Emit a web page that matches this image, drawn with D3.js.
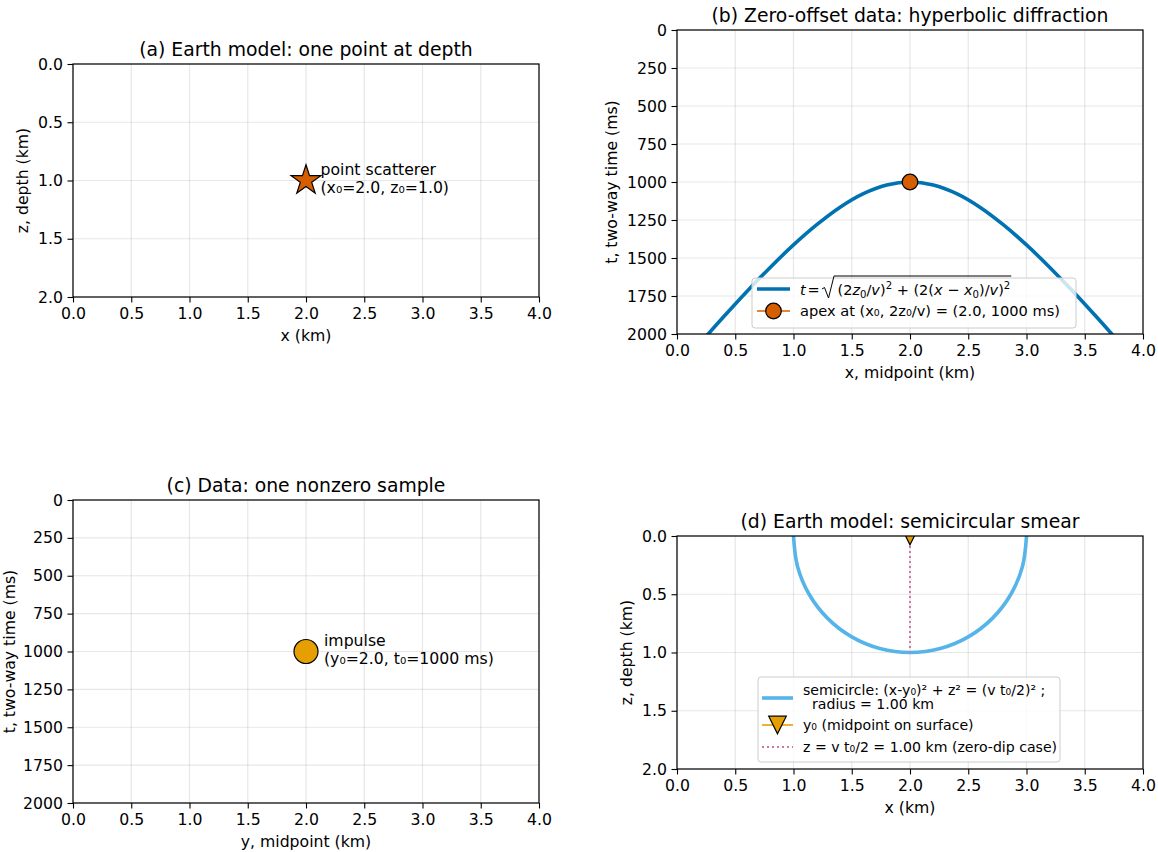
<!DOCTYPE html>
<html><head><meta charset="utf-8">
<script src="https://cdn.jsdelivr.net/npm/d3@7"></script>
<style>
body{margin:0;background:#fff}
text{font-family:"DejaVu Sans",sans-serif;fill:#000}
</style>
</head><body>
<svg id="chart" width="1158" height="852"></svg>
<script>
// ---------- data ----------
const xTicks = [0, 0.5, 1, 1.5, 2, 2.5, 3, 3.5, 4];
const depthTicks = [0, 0.5, 1, 1.5, 2];
const timeTicks = [0, 250, 500, 750, 1000, 1250, 1500, 1750, 2000];

const scattererX = [2.0], scattererZ = [1.0];
const apexX = [2.0], apexT = [1000];
const impulseY = [2.0], impulseT = [1000];
const midpointY = [2.0], midpointZ = [0.0];
const dipLineX = [2.0, 2.0], dipLineZ = [0.0, 1.0];

// hyperbolic diffraction (two-way time, ms) sampled along midpoint x (km)
const hypX = [0.0,0.2,0.4,0.6,0.8,1.0,1.2,1.4,1.6,1.8,2.0,2.2,2.4,2.6,2.8,3.0,3.2,3.4,3.6,3.8,4.0];
const hypT = [2236,2059,1887,1720,1562,1414,1281,1166,1077,1020,1000,1020,1077,1166,1281,1414,1562,1720,1887,2059,2236];

// semicircular smear (km)
const circX = [3.000,2.966,2.866,2.707,2.500,2.259,2.000,1.741,1.500,1.293,1.134,1.034,1.000];
const circZ = [0.000,0.259,0.500,0.707,0.866,0.966,1.000,0.966,0.866,0.707,0.500,0.259,0.000];

// ---------- style ----------
const C = {hyp:"#0072B2", apex:"#D55E00", star:"#D55E00", imp:"#E69F00", tri:"#E69F00", circ:"#56B4E9", dot:"#CC79A7"};
const FT = 15.7, FTITLE = 18.8, FLEG = 14.1, FLEGB = 14.6, FMATH = 14.5;

const svg = d3.select("#chart");

function starPath(R){
  const r = R*0.381966, p=[];
  for(let i=0;i<10;i++){
    const a = (-90 + i*36)*Math.PI/180, rr = i%2 ? r : R;
    p.push([rr*Math.cos(a), rr*Math.sin(a)]);
  }
  return "M" + p.map(d=>d[0].toFixed(2)+","+d[1].toFixed(2)).join("L") + "Z";
}
function triDownPath(h){ return `M0,${h}L${h},${-h}L${-h},${-h}Z`; }

function panel(o){
  const x = d3.scaleLinear().domain([0,4]).range([o.left, o.left+o.w]);
  const y = d3.scaleLinear().domain(o.ydom).range([o.top, o.top+o.h]);
  const g = svg.append("g");
  g.selectAll(null).data(xTicks).enter().append("line")
    .attr("x1",d=>x(d)).attr("x2",d=>x(d)).attr("y1",o.top).attr("y2",o.top+o.h)
    .attr("stroke","#b0b0b0").attr("stroke-opacity",0.3).attr("stroke-width",1.2);
  g.selectAll(null).data(o.yTicks).enter().append("line")
    .attr("y1",d=>y(d)).attr("y2",d=>y(d)).attr("x1",o.left).attr("x2",o.left+o.w)
    .attr("stroke","#b0b0b0").attr("stroke-opacity",0.3).attr("stroke-width",1.2);
  svg.append("clipPath").attr("id","clip"+o.id).append("rect")
    .attr("x",o.left).attr("y",o.top).attr("width",o.w).attr("height",o.h);
  const plot = svg.append("g").attr("clip-path",`url(#clip${o.id})`);
  const ax = svg.append("g").attr("transform",`translate(0,${o.top+o.h})`)
    .call(d3.axisBottom(x).tickValues(xTicks).tickFormat(d3.format(".1f")).tickSizeOuter(0).tickSize(5.5).tickPadding(5.4));
  const ay = svg.append("g").attr("transform",`translate(${o.left},0)`)
    .call(d3.axisLeft(y).tickValues(o.yTicks).tickFormat(o.yFmt).tickSizeOuter(0).tickSize(5.5).tickPadding(4.5));
  [ax,ay].forEach(a=>{
    a.select(".domain").remove();
    a.attr("font-family",null).attr("font-size",null);
    a.selectAll("text").style("font-size",FT+"px").style("font-family","DejaVu Sans");
    a.selectAll("line").attr("stroke","#000").attr("stroke-width",1.1);
  });
  let maxW = 0;
  ay.selectAll("text").each(function(){ maxW = Math.max(maxW, this.getComputedTextLength()); });
  svg.append("rect").attr("x",o.left).attr("y",o.top).attr("width",o.w).attr("height",o.h)
    .attr("fill","none").attr("stroke","#000").attr("stroke-width",1.2);
  svg.append("text").attr("x",o.left+o.w/2).attr("y",o.top-8.5).attr("text-anchor","middle")
    .style("font-size",FTITLE+"px").text(o.title);
  svg.append("text").attr("x",o.left+o.w/2).attr("y",o.top+o.h+44).attr("text-anchor","middle")
    .style("font-size",FT+"px").text(o.xlabel);
  const xb = Math.max(14.5, o.left - 10 - maxW - 10);
  svg.append("text").attr("transform",`translate(${xb},${o.top+o.h/2}) rotate(-90)`)
    .attr("text-anchor","middle").style("font-size",FT+"px").text(o.ylabel);
  return {x,y,plot};
}

// ---------- (a) ----------
const A = panel({id:"a", left:73, top:64, w:466, h:233, ydom:[0,2], yTicks:depthTicks, yFmt:d3.format(".1f"),
  title:"(a) Earth model: one point at depth", xlabel:"x (km)", ylabel:"z, depth (km)"});
A.plot.selectAll(null).data(scattererX).enter().append("path")
  .attr("d",starPath(15.7)).attr("transform",(d,i)=>`translate(${A.x(d)},${A.y(scattererZ[i])})`)
  .attr("fill",C.star).attr("stroke","#000").attr("stroke-width",1.2);
{
  const sx = A.x(scattererX[0]), sy = A.y(scattererZ[0]);
  svg.append("text").attr("x",sx+14.5).attr("y",sy-6).style("font-size",FT+"px").text("point scatterer");
  svg.append("text").attr("x",sx+14.5).attr("y",sy+12).style("font-size",FT+"px").text("(x₀=2.0, z₀=1.0)");
}

// ---------- (b) ----------
const B = panel({id:"b", left:677, top:30, w:466, h:304, ydom:[0,2000], yTicks:timeTicks, yFmt:d3.format("d"),
  title:"(b) Zero-offset data: hyperbolic diffraction", xlabel:"x, midpoint (km)", ylabel:"t, two-way time (ms)"});
B.plot.append("path").datum(hypX.map((d,i)=>[d,hypT[i]]))
  .attr("d", d3.line().x(d=>B.x(d[0])).y(d=>B.y(d[1])).curve(d3.curveCatmullRom))
  .attr("fill","none").attr("stroke",C.hyp).attr("stroke-width",3.6);
B.plot.selectAll(null).data(apexX).enter().append("circle")
  .attr("cx",d=>B.x(d)).attr("cy",(d,i)=>B.y(apexT[i])).attr("r",7.8)
  .attr("fill",C.apex).attr("stroke","#000").attr("stroke-width",1.2);

// ---------- (c) ----------
const Cp = panel({id:"c", left:73, top:500, w:466, h:303, ydom:[0,2000], yTicks:timeTicks, yFmt:d3.format("d"),
  title:"(c) Data: one nonzero sample", xlabel:"y, midpoint (km)", ylabel:"t, two-way time (ms)"});
Cp.plot.selectAll(null).data(impulseY).enter().append("circle")
  .attr("cx",d=>Cp.x(d)).attr("cy",(d,i)=>Cp.y(impulseT[i])).attr("r",12)
  .attr("fill",C.imp).attr("stroke","#000").attr("stroke-width",1.2);
{
  const cx = Cp.x(impulseY[0]), cy = Cp.y(impulseT[0]);
  svg.append("text").attr("x",cx+18).attr("y",cy-6).style("font-size",FT+"px").text("impulse");
  svg.append("text").attr("x",cx+18).attr("y",cy+12).style("font-size",FT+"px").text("(y₀=2.0, t₀=1000 ms)");
}

// ---------- (d) ----------
const D = panel({id:"d", left:677, top:536, w:466, h:233, ydom:[0,2], yTicks:depthTicks, yFmt:d3.format(".1f"),
  title:"(d) Earth model: semicircular smear", xlabel:"x (km)", ylabel:"z, depth (km)"});
D.plot.append("path").datum(circX.map((d,i)=>[d,circZ[i]]))
  .attr("d", d3.line().x(d=>D.x(d[0])).y(d=>D.y(d[1])).curve(d3.curveCatmullRom))
  .attr("fill","none").attr("stroke",C.circ).attr("stroke-width",3.6);
D.plot.append("path").datum(dipLineX.map((d,i)=>[d,dipLineZ[i]]))
  .attr("d", d3.line().x(d=>D.x(d[0])).y(d=>D.y(d[1])))
  .attr("fill","none").attr("stroke",C.dot).attr("stroke-width",2).attr("stroke-dasharray","2,3");
D.plot.selectAll(null).data(midpointY).enter().append("path")
  .attr("d",triDownPath(8.8)).attr("transform",(d,i)=>`translate(${D.x(d)},${D.y(midpointZ[i])})`)
  .attr("fill",C.tri).attr("stroke","#000").attr("stroke-width",1.2);

// ---------- legends ----------
function legendBox(x,y,w,h){
  svg.append("rect").attr("x",x).attr("y",y).attr("width",w).attr("height",h).attr("rx",3)
    .attr("fill","#fff").attr("fill-opacity",0.8).attr("stroke","#cccccc").attr("stroke-width",1);
}
// (b)
legendBox(752,278,324,50);
svg.append("line").attr("x1",757).attr("x2",790).attr("y1",289).attr("y2",289).attr("stroke",C.hyp).attr("stroke-width",3.6);
{
  const by = 295;
  svg.append("text").attr("x",800).attr("y",by).style("font-size",FMATH+"px").style("font-style","italic").text("t");
  svg.append("text").attr("x",807.5).attr("y",by).style("font-size",FMATH+"px").text("=");
  const a = 822;
  const t2 = svg.append("text").attr("x",a+15.5).attr("y",by).style("font-size",FMATH+"px");
  let cur = 0;
  const put = (s, off, opt) => {
    const ts = t2.append("tspan").attr("dy", off-cur).text(s);
    cur = off;
    if(opt==="i") ts.style("font-style","italic");
    if(opt==="s") ts.style("font-size","0.7em");
  };
  put("(2",0); put("z",0,"i"); put("0",2.5,"s"); put("/",0); put("v",0,"i"); put(")",0); put("2",-6,"s");
  put(" + (2(",0); put("x",0,"i"); put(" − ",0); put("x",0,"i"); put("0",2.5,"s"); put(")/",0); put("v",0,"i"); put(")",0); put("2",-6,"s");
  const w2 = t2.node().getComputedTextLength();
  svg.append("path").attr("d",`M${a},${by-6}L${a+2.5},${by-7.5}L${a+6.5},${by+3}L${a+12},${by-19}H${a+15.5+w2+1}`)
    .attr("fill","none").attr("stroke","#000").attr("stroke-width",1);
}
svg.append("line").attr("x1",757).attr("x2",790).attr("y1",311).attr("y2",311).attr("stroke",C.apex).attr("stroke-width",1.6);
svg.append("circle").attr("cx",773.5).attr("cy",311).attr("r",7.8).attr("fill",C.apex).attr("stroke","#000").attr("stroke-width",1.2);
svg.append("text").attr("x",800).attr("y",316).style("font-size",FLEGB+"px").text("apex at (x₀, 2z₀/v) = (2.0, 1000 ms)");

// (d)
legendBox(758,677,302,85);
svg.append("line").attr("x1",762).attr("x2",793).attr("y1",698).attr("y2",698).attr("stroke",C.circ).attr("stroke-width",3.6);
svg.append("text").attr("x",803).attr("y",694.5).style("font-size",FLEG+"px").text("semicircle: (x-y₀)² + z² = (v t₀/2)² ;");
svg.append("text").attr("x",812).attr("y",709).style("font-size",FLEG+"px").text("radius = 1.00 km");
svg.append("line").attr("x1",762).attr("x2",793).attr("y1",725).attr("y2",725).attr("stroke",C.tri).attr("stroke-width",1.6);
svg.append("path").attr("d",triDownPath(8.8)).attr("transform","translate(777.5,725)")
  .attr("fill",C.tri).attr("stroke","#000").attr("stroke-width",1.2);
svg.append("text").attr("x",803).attr("y",730).style("font-size",FLEG+"px").text("y₀ (midpoint on surface)");
svg.append("line").attr("x1",762).attr("x2",793).attr("y1",747).attr("y2",747).attr("stroke",C.dot).attr("stroke-width",2).attr("stroke-dasharray","2,3");
svg.append("text").attr("x",803).attr("y",752).style("font-size",FLEG+"px").text("z = v t₀/2 = 1.00 km (zero-dip case)");
</script>
</body></html>
